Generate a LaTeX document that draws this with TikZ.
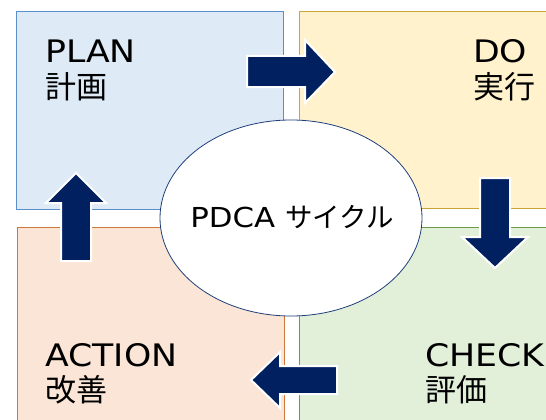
\documentclass[tikz,border=0pt]{standalone}
\usepackage{fontspec}
\usetikzlibrary{shapes.geometric}
\setmainfont{DejaVu Sans}[FakeStretch=1.12]
\newfontfamily\jp{Noto Sans CJK JP}
\definecolor{planfill}{HTML}{DEEBF7}
\definecolor{planline}{HTML}{5B8FC9}
\definecolor{dofill}{HTML}{FFF2CC}
\definecolor{doline}{HTML}{C9A43A}
\definecolor{checkfill}{HTML}{E2F0D9}
\definecolor{checkline}{HTML}{6A9A4A}
\definecolor{actfill}{HTML}{FBE5D6}
\definecolor{actline}{HTML}{D0783C}
\definecolor{navy}{HTML}{002060}
\definecolor{ringline}{HTML}{203F7A}
\tikzset{
  quad/.style={draw, line width=0.8pt, anchor=north west, inner sep=0pt},
  lbl/.style={anchor=base west, inner sep=0pt, font=\fontsize{31}{36}\selectfont},
  blockarrow/.style={fill=navy, draw=white, line width=2pt, line join=miter},
}
\begin{document}
\begin{tikzpicture}[x=1pt,y=-1pt]
    \useasboundingbox (0,0) rectangle (546,420);

    % Quadrants
    \node[quad, fill=planfill, draw=planline, minimum width=267pt, minimum height=198pt] (plan) at (16,11) {};
    \node[quad, fill=dofill, draw=doline, minimum width=270pt, minimum height=197pt] (do) at (299,11) {};
    \node[quad, fill=actfill, draw=actline, minimum width=267pt, minimum height=210pt] (action) at (17,227) {};
    \node[quad, fill=checkfill, draw=checkline, minimum width=270pt, minimum height=210pt] (check) at (299,227) {};

    % Labels
    \node[lbl] (plantitle) at (45,63) {PLAN};
    \node[lbl] (planjp) at (45,99) {\jp 計画};
    \node[lbl] (dotitle) at (473,63) {DO};
    \node[lbl] (dojp) at (473,98) {\jp 実行};
    \node[lbl] (acttitle) at (45,366) {ACTION};
    \node[lbl] (actjp) at (45,401) {\jp 改善};
    \node[lbl] (checktitle) at (425,366) {CHECK};
    \node[lbl] (checkjp) at (425,401) {\jp 評価};

    % Centre
    \node[draw=ringline, fill=white, line width=0.8pt, ellipse, minimum width=262pt, minimum height=196pt, inner sep=0pt] (cycle) at (291,218) {};
    \node[anchor=base, inner sep=0pt, font=\fontsize{27.5}{30}\selectfont] (cycletext) at (292,227) {PDCA {\jp サイクル}};

    % Arrows
    \draw[blockarrow] (247,56) -- (305,56) -- (305,40) -- (335,72) -- (305,103) -- (305,87) -- (247,87) -- cycle;
    \draw[blockarrow] (480,178) -- (510,178) -- (510,237) -- (528,237) -- (495,268) -- (462,237) -- (480,237) -- cycle;
    \draw[blockarrow] (337,366) -- (280,366) -- (280,352) -- (251,380) -- (280,408) -- (280,394) -- (337,394) -- cycle;
    \draw[blockarrow] (61,261) -- (61,203) -- (46,203) -- (76,173) -- (106,203) -- (91,203) -- (91,261) -- cycle;
\end{tikzpicture}
\end{document}
